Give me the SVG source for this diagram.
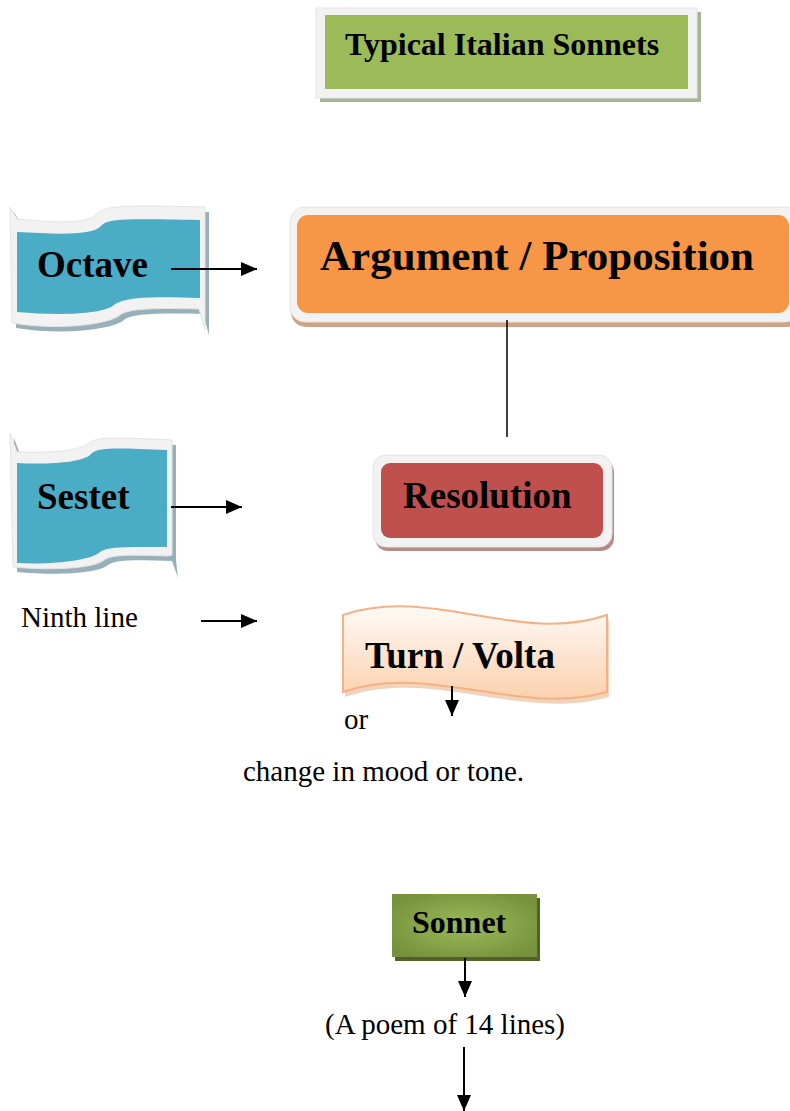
<svg xmlns="http://www.w3.org/2000/svg" width="790" height="1111" viewBox="0 0 790 1111">
<style>
.b{font-family:"Liberation Serif","Times New Roman",serif;font-weight:bold;fill:#000}
.r{font-family:"Liberation Serif","Times New Roman",serif;font-size:29px;fill:#000}
.frame{fill:#f2f2f2;stroke:#e4e4e4;stroke-width:1}
.ln{stroke:#000;stroke-width:2;fill:none}
.fshadow{fill:#97b0b9}
.blue{fill:#4bacc6}
</style>
<defs>
<marker id="ah" viewBox="0 0 16 14" refX="16" refY="7" markerWidth="16" markerHeight="14" markerUnits="userSpaceOnUse" orient="auto">
<path d="M0,0 L16,7 L0,14 z" fill="#000"/>
</marker>
<linearGradient id="peach" x1="0" y1="0" x2="0" y2="1">
<stop offset="0" stop-color="#fffaf6"/>
<stop offset="1" stop-color="#fbd1ae"/>
</linearGradient>
<radialGradient id="olive" cx="0.5" cy="0.5" r="0.6">
<stop offset="0" stop-color="#9bbb59"/>
<stop offset="1" stop-color="#76923c"/>
</radialGradient>
</defs>

<g id="title">
<rect x="320" y="12" width="381" height="90" fill="#a8b39a"/>
<rect x="316" y="8" width="381" height="90" class="frame"/>
<rect x="325" y="15" width="363" height="74" fill="#9bbb59"/>
<text x="345" y="55" class="b" font-size="32">Typical Italian Sonnets</text>
</g>

<g id="octave">
<path d="M14,212 L21,224 C59,228 92,229 101,219 C109,210 129,210 209,212 L209,335 L203,314 C164,313 132,313 124,320 C114,329 64,336 16,328 Z" class="fshadow"/>
<path d="M10,207 L17,219 C55,223 88,224 97,214 C105,205 125,205 205,207 L205,330 L199,309 C160,308 128,308 120,315 C110,324 60,331 12,323 Z" class="frame"/>
<path d="M17,232 C55,234 92,236 101,226 C109,218 125,219 200,220 L200,298 C160,297 126,296 114,305 C104,314 60,316 17,312 Z" class="blue"/>
<text x="37" y="277" class="b" font-size="37">Octave</text>
</g>

<g id="argument">
<rect x="291" y="212" width="510" height="115" rx="15" fill="#d0a382"/>
<rect x="290" y="207" width="510" height="115" rx="15" class="frame"/>
<rect x="297" y="215" width="492" height="98" rx="11" fill="#f79646"/>
<text x="320" y="270" class="b" font-size="43">Argument / Proposition</text>
</g>

<g id="sestet">
<path d="M14,438 L21,457 C54,458 82,456 92,449 C100,442 112,442 176,445 L176,560 L178,578 L172,561 C139,560 116,559 108,565 C99,573 59,576 17,572 Z" class="fshadow"/>
<path d="M10,433 L17,452 C50,453 78,451 88,444 C96,437 108,437 172,440 L172,555 L168,556 C135,555 112,554 104,560 C95,568 55,571 13,567 Z" class="frame"/>
<path d="M17,463 C50,465 82,462 90,455 C96,448 105,447 167,450 L167,547 C130,547 108,546 100,552 C92,560 55,565 17,563 Z" class="blue"/>
<text x="37" y="509" class="b" font-size="37">Sestet</text>
</g>

<g id="resolution">
<rect x="375" y="459" width="239" height="92" rx="13" fill="#b98a8a"/>
<rect x="373" y="455" width="239" height="92" rx="13" class="frame"/>
<rect x="381" y="463" width="222" height="75" rx="9" fill="#c0504d"/>
<text x="403" y="508" class="b" font-size="37">Resolution</text>
</g>

<g id="ninth">
<text x="21" y="627" class="r">Ninth line</text>
</g>

<g id="turn">
<path d="M343,617 C431,587 519,647 607,617 L607,694 C519,719 431,664 343,694 Z" fill="#e8b58e" opacity="0.6" transform="translate(2,3)"/>
<path d="M343,615 C431,585 519,645 607,615 L607,692 C519,717 431,662 343,692 Z" fill="url(#peach)" stroke="#f4b183" stroke-width="2"/>
<text x="365" y="668" class="b" font-size="37">Turn / Volta</text>
</g>

<g id="or"><text x="344" y="729" class="r">or</text></g>
<g id="change"><text x="243" y="781" class="r">change in mood or tone.</text></g>

<g id="sonnet">
<rect x="395" y="898" width="145" height="63" fill="#4f6228"/>
<rect x="392" y="894" width="145" height="63" fill="url(#olive)"/>
<text x="412" y="933" class="b" font-size="32">Sonnet</text>
</g>

<g id="poem"><text x="325" y="1034" class="r">(A poem of 14 lines)</text></g>

<g id="connectors">
<line x1="171" y1="269" x2="257" y2="269" class="ln" marker-end="url(#ah)"/>
<line x1="507" y1="320" x2="507" y2="437" stroke="#000" stroke-width="1.5"/>
<line x1="171" y1="507" x2="242" y2="507" class="ln" marker-end="url(#ah)"/>
<line x1="201" y1="621" x2="257" y2="621" class="ln" marker-end="url(#ah)"/>
<line x1="452" y1="686" x2="452" y2="716" class="ln" marker-end="url(#ah)"/>
<line x1="465" y1="958" x2="465" y2="997" class="ln" marker-end="url(#ah)"/>
<line x1="464" y1="1047" x2="464" y2="1111" class="ln" marker-end="url(#ah)"/>
</g>
</svg>
